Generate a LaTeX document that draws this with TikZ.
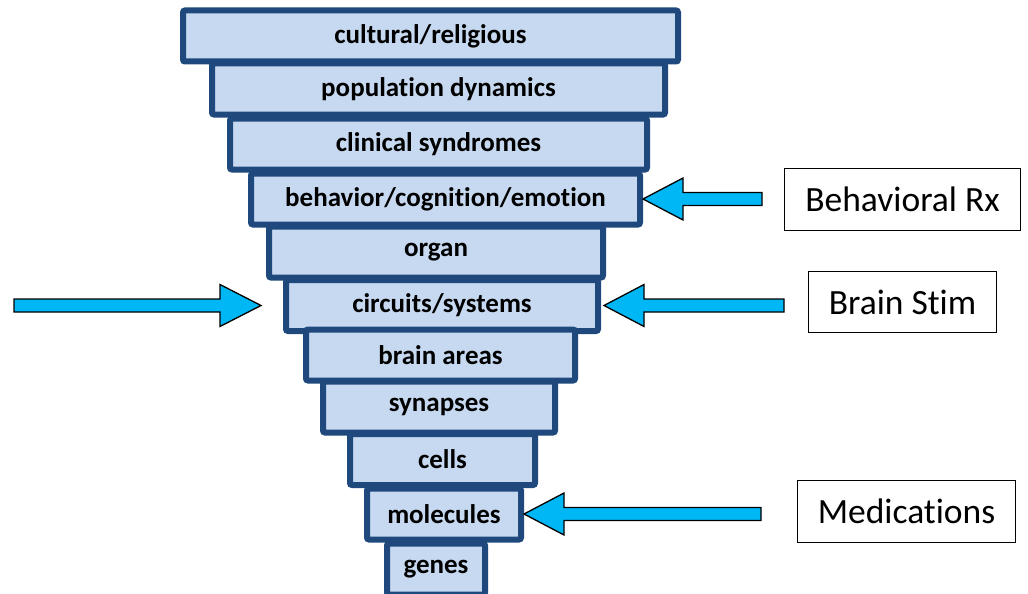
\documentclass[tikz,border=0pt]{standalone}
\usepackage{fontspec}
\setmainfont{Carlito}[Ligatures=NoCommon]
\definecolor{boxfill}{RGB}{198,217,240}
\definecolor{boxline}{RGB}{31,73,125}
\definecolor{arrowfill}{RGB}{0,183,245}
\begin{document}
\begin{tikzpicture}[x=1pt,y=-1pt,
  level/.style={draw=boxline,fill=boxfill,line width=6pt,rounded corners=2pt,
    minimum height=51pt,inner sep=0pt,font=\bfseries\fontsize{27}{29}\selectfont,text=black},
  label/.style={draw=black,line width=1.2pt,fill=white,inner sep=0pt,
    font=\fontsize{35.5}{38}\selectfont,text=black},
  barrow/.style={draw=black,line width=1.3pt,fill=arrowfill,line join=miter}]
\useasboundingbox (0,0) rectangle (1028,594);
\clip (0,0) rectangle (1028,594);
\node[level,minimum width=495pt] (l1) at (430.5,36) {cultural/religious};
\node[level,minimum width=453pt] (l2) at (438.5,89) {population dynamics};
\node[level,minimum width=417pt] (l3) at (438.5,144) {clinical syndromes};
\node[level,minimum width=389pt] (l4) at (445.5,199) {behavior/cognition/emotion};
\node[level,minimum width=334pt] (l5) at (436,252) {organ};
\node[level,minimum width=312pt] (l6) at (442,305.5) {circuits/systems};
\node[level,minimum width=269pt] (l7) at (440.5,355) {brain areas};
\node[level,minimum width=232pt] (l8) at (439,407) {synapses};
\node[level,minimum width=185pt] (l9) at (442.5,459.5) {cells};
\node[level,minimum width=154pt] (l10) at (444,514) {molecules};
\node[level,minimum width=98pt] (l11) at (436,569) {genes};
\node[label,minimum width=236pt,minimum height=62pt] (rx) at (902.5,199.5) {Behavioral Rx};
\node[label,minimum width=188pt,minimum height=61pt] (stim) at (902.5,302) {Brain Stim};
\node[label,minimum width=218pt,minimum height=62pt] (med) at (906.5,511.5) {Medications};
% arrows pointing left
\coordinate (t1) at (l4.east);
\coordinate (t2) at ([xshift=3pt]l6.east);
\coordinate (t3) at (l10.east);
\draw[barrow] (t1) -- ++(40,-21) -- ++(0,14.5) -- ++(79,0) -- ++(0,13) -- ++(-79,0) -- ++(0,14.5) -- cycle;
\draw[barrow] (t2) -- ++(40,-21) -- ++(0,14.5) -- ++(140,0) -- ++(0,13) -- ++(-140,0) -- ++(0,14.5) -- cycle;
\draw[barrow] (t3) -- ++(40,-21) -- ++(0,14.5) -- ++(197,0) -- ++(0,13) -- ++(-197,0) -- ++(0,14.5) -- cycle;
% arrow pointing right
\coordinate (t4) at ([xshift=-22pt]l6.west);
\draw[barrow] (t4) -- ++(-41,-21) -- ++(0,14.5) -- ++(-206,0) -- ++(0,13) -- ++(206,0) -- ++(0,14.5) -- cycle;
\end{tikzpicture}
\end{document}
